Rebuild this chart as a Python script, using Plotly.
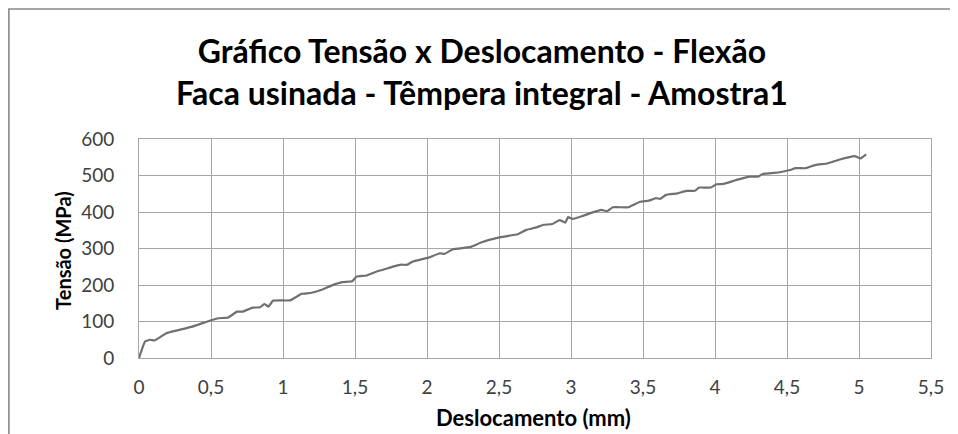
import plotly.graph_objects as go

deslocamento = [0.0, 0.042, 0.076, 0.11, 0.19, 0.28, 0.37, 0.49, 0.55, 0.62, 0.68, 0.72, 0.79, 0.84,
                0.87, 0.90, 0.93, 1.05, 1.13, 1.19, 1.27, 1.34, 1.41, 1.48, 1.51, 1.58, 1.65, 1.73,
                1.77, 1.82, 1.86, 1.90, 1.95, 2.01, 2.09, 2.12, 2.18, 2.30, 2.38, 2.51, 2.63, 2.69,
                2.76, 2.81, 2.87, 2.92, 2.96, 2.98, 3.01, 3.08, 3.15, 3.21, 3.25, 3.29, 3.40, 3.48,
                3.54, 3.59, 3.62, 3.66, 3.74, 3.80, 3.86, 3.89, 3.97, 4.01, 4.06, 4.15, 4.24, 4.30,
                4.33, 4.45, 4.52, 4.56, 4.63, 4.70, 4.78, 4.86, 4.97, 5.01, 5.05]
tensao = [0, 45, 50, 48, 68, 77, 86, 102, 109, 111, 127, 127, 138, 139,
          148, 141, 157, 158, 176, 178, 187, 199, 208, 210, 223, 226, 237, 246,
          251, 256, 255, 264, 269, 275, 287, 285, 298, 304, 317, 331, 339, 351,
          358, 365, 367, 378, 371, 386, 381, 389, 399, 406, 402, 413, 413, 428,
          431, 438, 436, 447, 451, 458, 458, 467, 467, 476, 477, 488, 497, 497,
          504, 509, 515, 520, 520, 529, 533, 543, 553, 547, 558]

x_ticks = [0, 0.5, 1, 1.5, 2, 2.5, 3, 3.5, 4, 4.5, 5, 5.5]
x_tick_labels = ["0", "0,5", "1", "1,5", "2", "2,5", "3", "3,5", "4", "4,5", "5", "5,5"]
y_ticks = [0, 100, 200, 300, 400, 500, 600]

title_text = "Gráfico Tensão x Deslocamento - Flexão<br>Faca usinada - Têmpera integral - Amostra1"
x_title = "Deslocamento (mm)"
y_title = "Tensão (MPa)"

# page offset of the figure (body margin) is 8px
OFF = 8
W, H = 958, 434
L, T = 139 - OFF, 139 - OFF
Rpx, Bpx = 931.5 - OFF, 358.3 - OFF
R, B = W - Rpx, H - Bpx
pw, ph = Rpx - L, Bpx - T

def px_to_paper_x(px):
    return (px - OFF - L) / pw

def py_to_paper_y(py):
    return (Bpx - (py - OFF)) / ph

fig = go.Figure()
fig.add_trace(go.Scatter(x=deslocamento, y=tensao, mode="lines",
                         line=dict(color="#707070", width=2.2, shape="spline", smoothing=0.3),
                         showlegend=False))

fig.update_layout(
    width=W, height=H,
    margin=dict(l=L, r=R, t=T, b=B, pad=0),
    paper_bgcolor="white", plot_bgcolor="white",
    font=dict(family="Lato, Open Sans, sans-serif", color="#404040"),
    title=dict(text=title_text, x=(482 - OFF) / W, xref="container", xanchor="center",
               y=1 - (63 - OFF) / H, yanchor="middle", yref="container",
               font=dict(size=32, color="#000000", family="Lato, sans-serif", weight="bold")),
    xaxis=dict(range=[0, 5.5], tickvals=x_ticks, ticktext=x_tick_labels,
               showgrid=True, gridcolor="#a6a6a6", gridwidth=1,
               showline=True, linecolor="#a6a6a6", mirror=True, zeroline=False,
               ticks="", ticklabelstandoff=12,
               tickfont=dict(size=19, color="#404040")),
    yaxis=dict(range=[0, 600], tickvals=y_ticks,
               showgrid=True, gridcolor="#a6a6a6", gridwidth=1,
               showline=True, linecolor="#a6a6a6", mirror=True, zeroline=False,
               ticks="", ticklabelstandoff=20,
               tickfont=dict(size=19, color="#404040")),
)

fig.add_annotation(text="<b>" + x_title + "</b>", xref="paper", yref="paper",
                   x=px_to_paper_x(534), y=py_to_paper_y(418),
                   xanchor="center", yanchor="middle", showarrow=False,
                   font=dict(size=22, color="#000000"))
fig.add_annotation(text="<b>" + y_title + "</b>", xref="paper", yref="paper",
                   x=px_to_paper_x(63), y=py_to_paper_y(251), textangle=-90,
                   xanchor="center", yanchor="middle", showarrow=False,
                   font=dict(size=20, color="#000000"))

# outer chart frame (top and left edges visible)
fig.add_shape(type="rect", xref="paper", yref="paper",
              x0=(0.8 - L) / pw, x1=(W + 10 - L) / pw,
              y0=(Bpx - (H + 10)) / ph, y1=(Bpx - 0.8) / ph,
              line=dict(color="#898989", width=1.6), fillcolor="rgba(0,0,0,0)", layer="below")

fig.write_html("out.html")
